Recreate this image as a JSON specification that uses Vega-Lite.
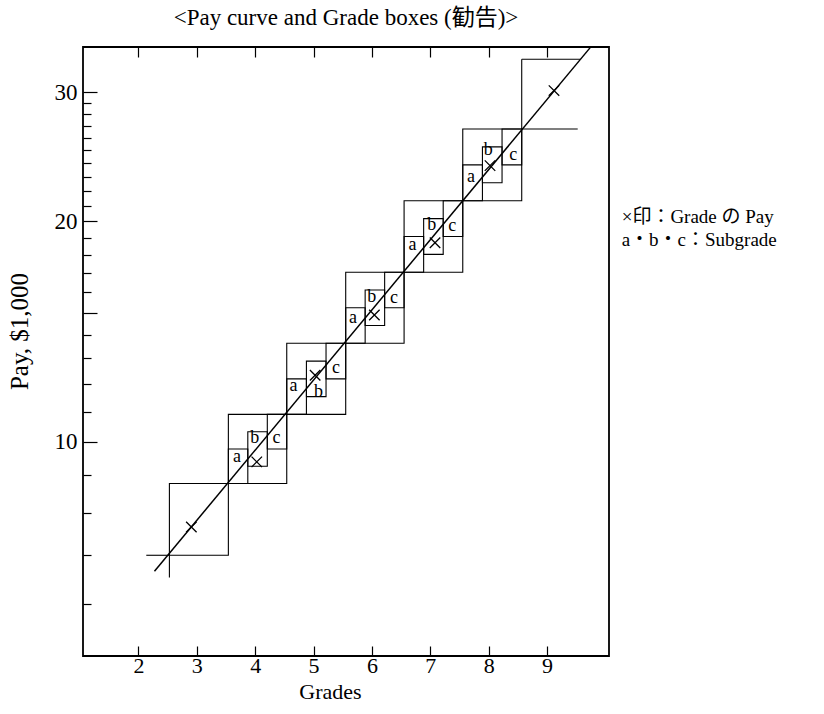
{
  "$schema": "https://vega.github.io/schema/vega-lite/v6.json",
  "width": 526,
  "height": 609,
  "autosize": {"type": "none"},
  "padding": {"left": 83, "top": 47, "right": 215, "bottom": 58},
  "title": {
    "text": "<Pay curve and Grade boxes (勧告)>",
    "font": "Liberation Serif, Noto Sans CJK JP",
    "fontSize": 23,
    "fontWeight": "normal",
    "color": "black",
    "anchor": "middle",
    "offset": 16
  },
  "config": {
    "view": {"stroke": "black", "strokeWidth": 1.8},
    "font": "Liberation Serif"
  },
  "datasets": {
    "boxes": [
      {"x": 2.53, "x2": 3.54, "y": 7.0, "y2": 8.77},
      {"x": 3.54, "x2": 4.54, "y": 8.77, "y2": 10.9},
      {"x": 4.54, "x2": 5.55, "y": 10.9, "y2": 13.63},
      {"x": 5.55, "x2": 6.55, "y": 13.63, "y2": 17.04},
      {"x": 6.55, "x2": 7.555, "y": 17.04, "y2": 21.34},
      {"x": 7.555, "x2": 8.565, "y": 21.34, "y2": 26.74},
      {"x": 3.54, "x2": 3.873, "y": 8.77, "y2": 9.778},
      {"x": 3.873, "x2": 4.207, "y": 9.26, "y2": 10.324},
      {"x": 4.207, "x2": 4.54, "y": 9.778, "y2": 10.9},
      {"x": 4.54, "x2": 4.877, "y": 10.9, "y2": 12.189},
      {"x": 4.877, "x2": 5.213, "y": 11.527, "y2": 12.889},
      {"x": 5.213, "x2": 5.55, "y": 12.189, "y2": 13.63},
      {"x": 5.55, "x2": 5.883, "y": 13.63, "y2": 15.24},
      {"x": 5.883, "x2": 6.217, "y": 14.412, "y2": 16.115},
      {"x": 6.217, "x2": 6.55, "y": 15.24, "y2": 17.04},
      {"x": 6.55, "x2": 6.885, "y": 17.04, "y2": 19.069},
      {"x": 6.885, "x2": 7.22, "y": 18.025, "y2": 20.172},
      {"x": 7.22, "x2": 7.555, "y": 19.069, "y2": 21.34},
      {"x": 7.555, "x2": 7.892, "y": 21.34, "y2": 23.888},
      {"x": 7.892, "x2": 8.228, "y": 22.578, "y2": 25.273},
      {"x": 8.228, "x2": 8.565, "y": 23.888, "y2": 26.74}
    ],
    "segments": [
      {"x": 2.134, "x2": 2.53, "y": 7.0, "y2": 7.0},
      {"x": 2.53, "x2": 2.53, "y": 6.53, "y2": 7.0},
      {"x": 8.565, "x2": 9.524, "y": 26.74, "y2": 26.74},
      {"x": 8.565, "x2": 8.565, "y": 26.74, "y2": 33.3},
      {"x": 8.565, "x2": 9.563, "y": 33.3, "y2": 33.3}
    ],
    "payline": [
      {"x": 2.274, "x2": 9.752, "y": 6.658, "y2": 34.64}
    ],
    "gradepay": [
      {"grade": 3, "x": 2.906, "y": 7.65},
      {"grade": 4, "x": 4.027, "y": 9.39},
      {"grade": 5, "x": 5.026, "y": 12.33},
      {"grade": 6, "x": 6.041, "y": 14.9},
      {"grade": 7, "x": 7.08, "y": 18.7},
      {"grade": 8, "x": 8.022, "y": 23.83},
      {"grade": 9, "x": 9.118, "y": 30.17}
    ],
    "subgrades": [
      {"grade": 4, "sub": "a", "x": 3.69, "y": 9.54},
      {"grade": 4, "sub": "b", "x": 3.99, "y": 10.13},
      {"grade": 4, "sub": "c", "x": 4.366, "y": 10.11},
      {"grade": 5, "sub": "a", "x": 4.654, "y": 11.9},
      {"grade": 5, "sub": "b", "x": 5.082, "y": 11.7},
      {"grade": 5, "sub": "c", "x": 5.385, "y": 12.6},
      {"grade": 6, "sub": "a", "x": 5.676, "y": 14.78},
      {"grade": 6, "sub": "b", "x": 5.997, "y": 15.77},
      {"grade": 6, "sub": "c", "x": 6.378, "y": 15.72},
      {"grade": 7, "sub": "a", "x": 6.692, "y": 18.57},
      {"grade": 7, "sub": "b", "x": 7.024, "y": 19.77},
      {"grade": 7, "sub": "c", "x": 7.377, "y": 19.71},
      {"grade": 8, "sub": "a", "x": 7.697, "y": 22.97},
      {"grade": 8, "sub": "b", "x": 7.993, "y": 25.03},
      {"grade": 8, "sub": "c", "x": 8.421, "y": 24.64}
    ],
    "notes": [
      {"x": 10.277, "y": 20.28, "text": "×印：Grade の Pay"},
      {"x": 10.277, "y": 18.87, "text": "a・b・c：Subgrade"}
    ]
  },
  "resolve": {"axis": {"x": "independent", "y": "independent"}},
  "layer": [
    {
      "data": {"name": "boxes"},
      "mark": {"type": "rect", "fill": "transparent", "stroke": "black", "strokeWidth": 1.1},
      "encoding": {
        "x": {
          "field": "x", "type": "quantitative",
          "scale": {"domain": [1.05, 10.06], "nice": false, "zero": false},
          "axis": {
            "orient": "bottom",
            "values": [2, 3, 4, 5, 6, 7, 8, 9],
            "format": "d",
            "domain": false, "grid": false,
            "tickSize": -10, "tickColor": "black", "tickWidth": 1.2,
            "labelFont": "Liberation Serif", "labelFontSize": 22, "labelColor": "black",
            "labelPadding": 9,
            "title": "Grades",
            "titleFont": "Liberation Serif", "titleFontSize": 22, "titleFontWeight": "normal", "titleColor": "black",
            "titleX": 247, "titleY": 42, "titleAlign": "center", "titleBaseline": "alphabetic"
          }
        },
        "x2": {"field": "x2"},
        "y": {
          "field": "y", "type": "quantitative",
          "scale": {"type": "log", "domain": [5.1, 34.6], "nice": false},
          "axis": {
            "orient": "left",
            "values": [6, 7, 8, 9, 10, 11, 12, 13, 14, 15, 16, 17, 18, 19, 20, 21, 22, 23, 24, 25, 26, 27, 28, 29, 30],
            "format": "d",
            "labelExpr": "datum.value == 10 || datum.value == 20 || datum.value == 30 ? datum.label : ''",
            "labelOverlap": false,
            "domain": false, "grid": false,
            "tickSize": {"condition": {"test": "datum.value == 10 || datum.value == 15 || datum.value == 20 || datum.value == 30", "value": -14}, "value": -8},
            "tickColor": "black", "tickWidth": 1.2,
            "labelFont": "Liberation Serif", "labelFontSize": 23, "labelColor": "black",
            "labelPadding": 20,
            "title": "Pay, $1,000",
            "titleFont": "Liberation Serif", "titleFontSize": 25, "titleFontWeight": "normal", "titleColor": "black",
            "titleX": -64, "titleY": 284, "titleAlign": "center", "titleBaseline": "middle", "titleAngle": 270
          }
        },
        "y2": {"field": "y2"}
      }
    },
    {
      "data": {"name": "segments"},
      "mark": {"type": "rule", "stroke": "black", "strokeWidth": 1.1},
      "encoding": {
        "x": {
          "field": "x", "type": "quantitative",
          "scale": {"domain": [1.05, 10.06], "nice": false, "zero": false},
          "axis": {
            "orient": "top",
            "values": [2, 3, 4, 5, 6, 7, 8, 9],
            "labels": false, "domain": false, "grid": false,
            "tickSize": -10, "tickColor": "black", "tickWidth": 1.2,
            "title": null
          }
        },
        "x2": {"field": "x2"},
        "y": {"field": "y", "type": "quantitative", "scale": {"type": "log", "domain": [5.1, 34.6], "nice": false}, "axis": null},
        "y2": {"field": "y2"}
      }
    },
    {
      "data": {"name": "payline"},
      "mark": {"type": "rule", "stroke": "black", "strokeWidth": 1.5},
      "encoding": {
        "x": {"field": "x", "type": "quantitative", "scale": {"domain": [1.05, 10.06], "nice": false, "zero": false}, "axis": null},
        "x2": {"field": "x2"},
        "y": {"field": "y", "type": "quantitative", "scale": {"type": "log", "domain": [5.1, 34.6], "nice": false}, "axis": null},
        "y2": {"field": "y2"}
      }
    },
    {
      "data": {"name": "gradepay"},
      "mark": {"type": "point", "shape": "M-1,-1L1,1M-1,1L1,-1", "filled": false, "stroke": "black", "strokeWidth": 1.3, "size": 110, "opacity": 1},
      "encoding": {
        "x": {"field": "x", "type": "quantitative", "scale": {"domain": [1.05, 10.06], "nice": false, "zero": false}, "axis": null},
        "y": {"field": "y", "type": "quantitative", "scale": {"type": "log", "domain": [5.1, 34.6], "nice": false}, "axis": null}
      }
    },
    {
      "data": {"name": "subgrades"},
      "mark": {"type": "text", "font": "Liberation Serif", "fontSize": 18, "color": "black", "align": "center", "baseline": "middle"},
      "encoding": {
        "x": {"field": "x", "type": "quantitative", "scale": {"domain": [1.05, 10.06], "nice": false, "zero": false}, "axis": null},
        "y": {"field": "y", "type": "quantitative", "scale": {"type": "log", "domain": [5.1, 34.6], "nice": false}, "axis": null},
        "text": {"field": "sub"}
      }
    },
    {
      "data": {"name": "notes"},
      "mark": {"type": "text", "font": "Liberation Serif, Noto Sans CJK JP", "fontSize": 19, "color": "black", "align": "left", "baseline": "middle"},
      "encoding": {
        "x": {"field": "x", "type": "quantitative", "scale": {"domain": [1.05, 10.06], "nice": false, "zero": false}, "axis": null},
        "y": {"field": "y", "type": "quantitative", "scale": {"type": "log", "domain": [5.1, 34.6], "nice": false}, "axis": null},
        "text": {"field": "text"}
      }
    }
  ]
}
